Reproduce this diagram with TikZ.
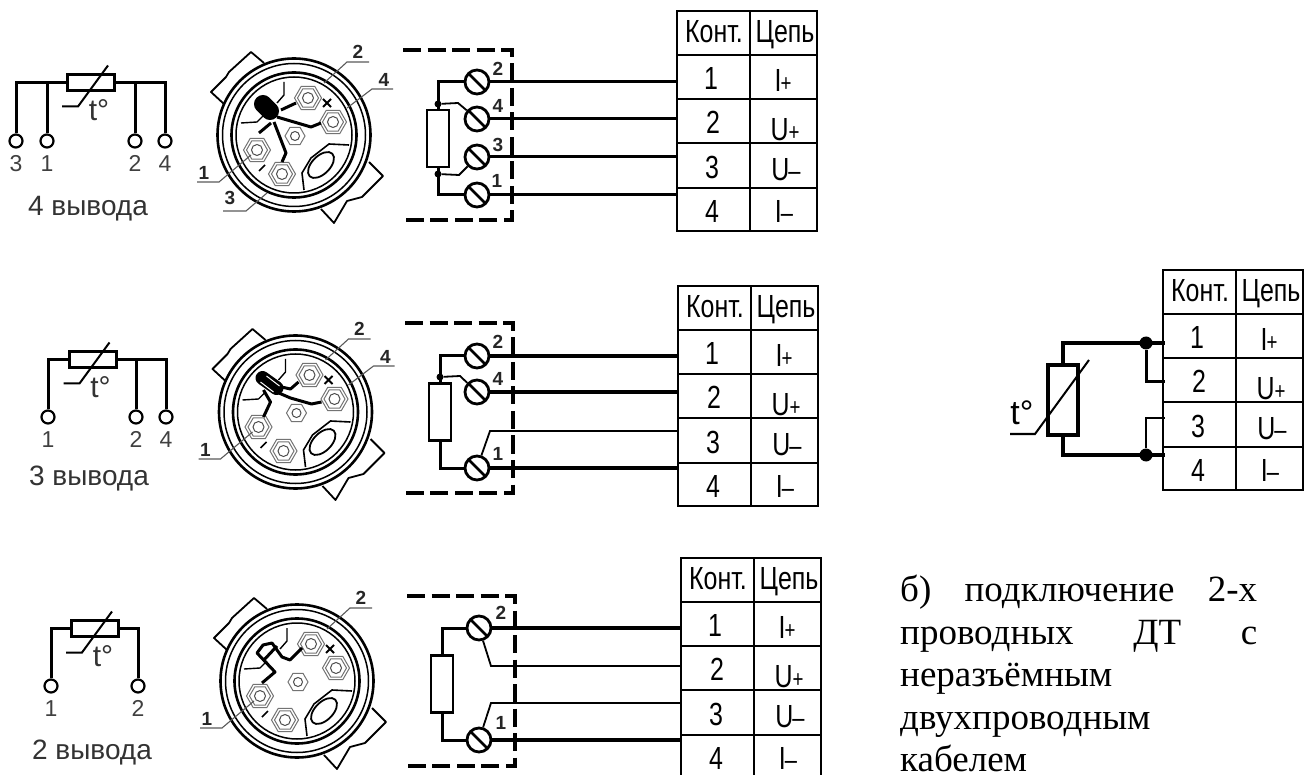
\documentclass[tikz,border=0pt]{standalone}
\usepackage{fontspec}
\setmainfont{Liberation Serif}
\newfontfamily\labelfont{Liberation Sans}
\newfontfamily\gostfont[FakeStretch=0.78]{Liberation Sans}
\usetikzlibrary{positioning,shapes.geometric}
\tikzset{
wire/.style={line width=3pt},
thinwire/.style={line width=1.8pt},
leader/.style={line width=1.1pt,draw=black!65},
frameline/.style={line width=3.2pt,dash pattern=on 18pt off 6.5pt},
gridline/.style={line width=2pt},
resist/.style={draw,line width=2.6pt,minimum width=22pt,minimum height=57pt,inner sep=0pt},
thermobody/.style={draw,line width=3pt,minimum width=47pt,minimum height=16pt,inner sep=0pt},
dot/.style={circle,fill,inner sep=0pt,minimum size=7pt},
bigdot/.style={circle,fill,inner sep=0pt,minimum size=13pt},
pin/.style={circle,draw,line width=2.2pt,inner sep=0pt,minimum size=13pt},
pinnum/.style={inner sep=0pt,text=black!75,font=\labelfont\fontsize{23}{23}\selectfont},
screw/.style={circle,draw,line width=2.8pt,inner sep=0pt,minimum size=24pt,
  path picture={\draw[line width=2.8pt] (path picture bounding box.north west) -- (path picture bounding box.south east);}},
tag/.style={inner sep=0pt,text=black!85,font=\labelfont\bfseries\fontsize{19}{19}\selectfont},
cell/.style={inner sep=0pt,font=\gostfont\fontsize{32}{32}\selectfont},
nutbig/.style={regular polygon,regular polygon sides=6,draw=black!55,line width=1pt,inner sep=0pt,minimum size=#1},
caption/.style={inner sep=0pt,text=black!80,font=\labelfont\fontsize{28}{28}\selectfont},
plug/.pic={
  \draw[line width=2.6pt] (0,0) circle (76.5);
  \draw[line width=1.5pt] (0,0) circle (71.5);
  \draw[line width=2.6pt] (0,0) circle (62.5);
  \draw[line width=1.5pt] (0,0) circle (58);
  \draw[line width=1.8pt,line join=round] (-30,-72) -- (-43,-83) -- (-65,-63) -- (-68,-58) -- (-83,-43) -- (-70,-31);
  \draw[line width=1.8pt,line join=round] (75,27) -- (89,41) -- (68,62) -- (53,66) -- (40,88) -- (27,74);
  \draw[line width=1.4pt] (-10,-53) -- (-10,-40) -- (-17,-32);
  \draw[line width=1.4pt] (-53,-12) -- (-37,-13) -- (-30,-20);
  \draw[line width=1.6pt] (55,10) -- (35,9) -- (17,23) -- (8,38) -- (10,55);
  \draw[line width=1.8pt] (27,30) ellipse [x radius=16,y radius=9,rotate=45];
  \foreach \hx/\hy [count=\i] in {14/-37,39/-13,-37/15,-12/39} {
    \node[nutbig=27pt] (-n\i) at (\hx,\hy) {};
    \node[nutbig=21pt] (-m\i) at (\hx,\hy) {};
    \draw[line width=1pt,draw=black!70] (\hx,\hy) circle (5.5);
  }
  \node[nutbig=20pt] (-n5) at (1,1) {};
  \draw[line width=1pt,draw=black!70] (1,1) circle (4.5);
  \draw[line width=1.8pt] (29,-36) -- (37,-28) (29,-28) -- (37,-36);
  \draw[line width=1.6pt] (-35,36) -- (-29,30);
},
leadtwo/.pic={\draw[leader] (75,-73) -- (53,-73) -- (30,-52); \node[tag] (-t) at (64,-83) {2};},
leadfour/.pic={\draw[leader] (99,-46) -- (78,-46) -- (53,-27); \node[tag] (-t) at (90,-55) {4};},
leadone/.pic={\draw[leader] (-97,47) -- (-75,47) -- (-43,20); \node[tag] (-t) at (-90,38) {1};},
leadthree/.pic={\draw[leader] (-71,76) -- (-48,76) -- (-27,58); \node[tag] (-t) at (-64,63) {3};},
thermo/.pic={
  \node[thermobody] (-b) at (0,0) {};
  \draw[line width=2pt] (-29,24) -- (-13,24) -- (17,-17);
  \node[inner sep=0pt,text=black!80,font=\labelfont\fontsize{30}{30}\selectfont] (-t) at (8,28) {t°};
},
conttable/.pic={
  \coordinate (-left) at (0,0);
  \draw[gridline] (0,220) -- (0,0) -- (140,0) -- (140,220) -- cycle;
  \draw[gridline] (73,0) -- (73,220);
  \foreach \ry in {44,88,132,177} \draw[gridline] (0,\ry) -- (140,\ry);
  \node[cell] (-h1) at (37,21) {Конт.};
  \node[cell] (-h2) at (108,24) {Цепь};
  \node[cell] (-n1) at (34,67) {1};
  \node[cell] (-n2) at (36,111) {2};
  \node[cell] (-n3) at (35,156) {3};
  \node[cell] (-n4) at (35,200) {4};
  \node[cell] (-c1) at (106,69) {I\kern-1pt{\fontsize{24}{24}\selectfont+}};
  \node[cell] (-c2) at (108,119) {U{\fontsize{24}{24}\selectfont+}};
  \node[cell] (-c3) at (109,159) {U\kern-1pt{\fontsize{28}{28}\selectfont–}};
  \node[cell] (-c4) at (107,200) {I\kern-1pt{\fontsize{28}{28}\selectfont–}};
}
}
\begin{document}
\begin{tikzpicture}[x=1pt,y=-1pt]
\clip (0,0) rectangle (1304,775);
% left column
\pic (sa) at (91,82.5) {thermo};
\pic (sb) at (92.5,359.5) {thermo};
\pic (sc) at (95,628.5) {thermo};
\foreach \n/\x/\y/\t in {pa3/16/141/3,pa1/47/141/1,pa2/135/141/2,pa4/165/141/4,pb1/48/417/1,pb2/136/417/2,pb4/166/417/4,pc1/51/686/1,pc2/138/686/2}
{\node[pin] (\n) at (\x,\y) {};
\node[pinnum,below=7pt of \n] (\n-t) {\t};}
\draw[wire] (sa-b.west) -| (pa3);
\draw[wire] (pa1 |- sa-b.west) -- (pa1);
\draw[wire] (sa-b.east) -| (pa4);
\draw[wire] (pa2 |- sa-b.east) -- (pa2);
\draw[wire] (sb-b.west) -| (pb1);
\draw[wire] (sb-b.east) -| (pb4);
\draw[wire] (pb2 |- sb-b.east) -- (pb2);
\draw[wire] (sc-b.west) -| (pc1);
\draw[wire] (sc-b.east) -| (pc2);
\node[caption] (capa) at (88,209) {4 вывода};
\node[caption] (capb) at (89,479) {3 вывода};
\node[caption] (capc) at (92,753) {2 вывода};
% plugs
\pic (ua) at (294,135) {plug};
\pic (ub) at (295.5,412) {plug};
\pic (uc) at (297,681) {plug};
\begin{scope}[shift={(294,135)}]
\draw[line width=18pt,line cap=round] (-31,-31) -- (-24,-24);
\draw[wire,line join=round] (-13,-25) -- (2,-32);
\draw[wire,line join=round] (-17,-18) -- (17,-8) -- (27,-12);
\draw[wire,line join=round] (-23,-12) -- (-35,-2);
\draw[wire,line join=round] (-20,-13) -- (-8,18) -- (-12,27);
\end{scope}
\begin{scope}[shift={(295.5,412)}]
\draw[line width=14pt,line cap=round] (-33,-34) -- (-19,-24);
\draw[line width=1pt,white] (-35,-30) -- (-22,-20) (-29,-36) -- (-16,-26);
\draw[wire,line join=round] (-14,-25) -- (-5,-23) -- (3,-30);
\draw[wire,line join=round] (-19,-20) -- (-5,-14) -- (16,-8) -- (26,-10);
\draw[wire,line join=round] (-32,-22) -- (-25,-10) -- (-32,5);
\end{scope}
\begin{scope}[shift={(297,681)}]
\draw[wire,line join=round] (5,-33) -- (-7,-21) -- (-15,-24) -- (-25,-38) -- (-34,-36) -- (-40,-28) -- (-22,-9) -- (-35,2);
\draw[wire,line join=round] (-34,-20) -- (-20,-35);
\end{scope}
\pic (la2) at (294,135) {leadtwo};
\pic (la4) at (294,135) {leadfour};
\pic (la1) at (294,135) {leadone};
\pic (la3) at (294,135) {leadthree};
\pic (lb2) at (295.5,412) {leadtwo};
\pic (lb4) at (295.5,412) {leadfour};
\pic (lb1) at (295.5,412) {leadone};
\pic (lc2) at (297,681) {leadtwo};
\pic (lc1) at (297,681) {leadone};
% tables
\pic (ta) at (677,11) {conttable};
\pic (tb) at (678,286) {conttable};
\pic (tc) at (681,558) {conttable};
\pic (td) at (1163,270) {conttable};
% dashed boxes
\draw[frameline] (403,50) -- (512,50) -- (512,220) -- (400,220);
\draw[frameline] (405,323) -- (513,323) -- (513,493) -- (402,493);
\draw[frameline] (407,596) -- (515,596) -- (515,766) -- (403,766);
% terminals
\foreach \n/\x/\y/\tx/\ty/\t in {a2/477/82/498/69/2,a4/477/119/498/106/4,a3/477/157/498/145/3,a1/477/195/497/181/1,
b2/477/356/498/342/2,b4/477/392/498/379/4,b1/477/468/498/454/1,c2/479/628/501/613/2,c1/479/740/501/723/1}
{\node[screw] (\n) at (\x,\y) {};
\node[tag] (\n-t) at (\tx,\ty) {\t};}
\foreach \n in {a2,a4,a3,a1} \draw[wire] (\n) -- (\n -| ta-left);
\foreach \n in {b2,b4,b1} \draw[line width=4pt] (\n) -- (\n -| tb-left);
\foreach \n in {c2,c1} \draw[line width=3.5pt] (\n) -- (\n -| tc-left);
% row 1
\node[resist] (ra) at (438,138.5) {};
\node[dot] (da) at (438,104) {};
\node[dot] (ea) at (438,174) {};
\coordinate (ka) at (458,103);
\coordinate (ma) at (459,175);
\draw[wire] (ra.north) |- (a2);
\draw[wire] (ra.south) |- (a1);
\draw[thinwire] (da) -- (ka) -- (a4);
\draw[thinwire] (ea) -- (ma) -- (a3);
% row 2
\node[resist] (rb) at (440,412) {};
\node[dot] (db) at (440,377) {};
\coordinate (kb) at (460,376);
\coordinate (qb) at (490,431);
\coordinate (qbt) at (qb -| tb-left);
\draw[wire] (rb.north) |- (b2);
\draw[wire] (rb.south) |- (b1);
\draw[thinwire] (db) -- (kb) -- (b4);
\draw[thinwire] (b1) -- (qb) -- (qbt);
% row 3
\node[resist] (rc) at (442,684) {};
\coordinate (qc2) at (491,666);
\coordinate (qc1) at (491,703);
\coordinate (qct2) at (qc2 -| tc-left);
\coordinate (qct1) at (qc1 -| tc-left);
\draw[wire] (rc.north) |- (c2);
\draw[wire] (rc.south) |- (c1);
\draw[thinwire] (c2) -- (qc2) -- (qct2);
\draw[thinwire] (c1) -- (qc1) -- (qct1);
% right diagram
\node[draw,line width=3.4pt,minimum width=30pt,minimum height=70pt,inner sep=0pt] (rd) at (1063,400) {};
\node[bigdot] (dd1) at (1146,343) {};
\node[bigdot] (dd2) at (1146,455) {};
\coordinate (kd1) at (1165,343);
\coordinate (kd2) at (1165,382);
\coordinate (kd3) at (1165,418);
\coordinate (kd4) at (1165,455);
\draw[line width=4pt] (rd.north) |- (kd1);
\draw[line width=4pt] (rd.south) |- (kd4);
\draw[wire] (dd1) |- (kd2);
\draw[thinwire] (dd2) |- (kd3);
\draw[line width=2pt] (1010,434) -- (1035,434) -- (1089,360);
\node[inner sep=0pt,font=\labelfont\fontsize{34}{34}\selectfont] (td-t) at (1022,413) {t°};
% note
\node[anchor=north west,inner sep=0pt,text width=357pt,font=\fontsize{37}{42.5}\selectfont] (note) at (900,575)
{б)\hfill подключение\hfill 2-х\\ проводных\hfill ДТ\hfill с\\ неразъёмным\\ двухпроводным\\ кабелем};
\end{tikzpicture}
\end{document}
